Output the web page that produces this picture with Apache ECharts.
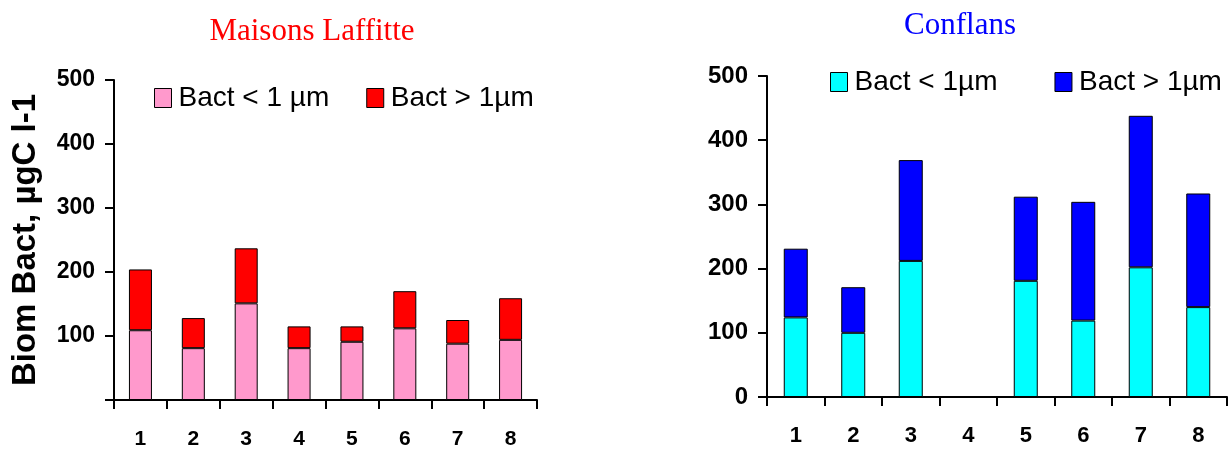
<!DOCTYPE html>
<html>
<head>
<meta charset="utf-8">
<script src="https://cdn.jsdelivr.net/npm/echarts@6/dist/echarts.min.js"></script>
<style>html,body{margin:0;padding:0;background:#fff;}#c{width:1229px;height:450px;}</style>
</head>
<body>
<div id="c"></div>
<script>
var categories = ['1', '2', '3', '4', '5', '6', '7', '8'];
var yTicks = [0, 100, 200, 300, 400, 500];
// Maisons Laffitte
var mlSmall = [109, 81, 151, 81, 91, 112, 88, 94];
var mlLarge = [95, 47, 86, 34, 24, 58, 37, 65];
// Conflans
var cfSmall = [124, 100, 212, null, 181, 119, 202, 140];
var cfLarge = [107, 71, 157, null, 131, 185, 236, 177];

var font = "'Liberation Sans', Arial, sans-serif";
var serif = "'Liberation Serif', 'Times New Roman', serif";

var chart = echarts.init(document.getElementById('c'), null, {renderer: 'canvas'});

function xAx(gi, fs, margin) {
  return {
    type: 'category', gridIndex: gi, data: categories, boundaryGap: true,
    axisLine: {show: true, lineStyle: {color: '#000', width: 2}},
    axisTick: {show: true, length: 9, inside: false, lineStyle: {color: '#000', width: 2}},
    axisLabel: {color: '#000', fontFamily: font, fontWeight: 'bold', fontSize: fs, margin: margin},
    splitLine: {show: false}
  };
}
function yAx(gi, fs, showZero, extra) {
  var o = {
    type: 'value', gridIndex: gi, min: yTicks[0], max: yTicks[yTicks.length - 1], interval: 100,
    axisLine: {show: true, lineStyle: {color: '#000', width: 2}},
    axisTick: {show: true, length: 9, lineStyle: {color: '#000', width: 2}},
    axisLabel: {color: '#000', fontFamily: font, fontWeight: 'bold', fontSize: fs, margin: 19,
      formatter: function (v) { return (v === 0 && !showZero) ? '' : String(v); }},
    splitLine: {show: false}
  };
  for (var k in extra) o[k] = extra[k];
  return o;
}
function bar(name, data, color, xi, stack, bw) {
  return {
    name: name, type: 'bar', xAxisIndex: xi, yAxisIndex: xi, stack: stack, data: data,
    barWidth: bw,
    itemStyle: {color: color, borderColor: '#000', borderWidth: 1},
    emphasis: {disabled: true}
  };
}

chart.setOption({
  animation: false,
  backgroundColor: '#fff',
  title: [
    {text: 'Maisons Laffitte', left: 307, top: 11, textAlign: 'center',
      textStyle: {color: '#ff0000', fontFamily: serif, fontWeight: 'normal', fontSize: 31}},
    {text: 'Conflans', left: 955, top: 5, textAlign: 'center',
      textStyle: {color: '#0000ff', fontFamily: serif, fontWeight: 'normal', fontSize: 31}}
  ],
  legend: [
    {left: 149, top: 79, width: 460, itemWidth: 17, itemHeight: 19, itemGap: 37, icon: 'rect',
      data: ['Bact < 1 µm', 'Bact > 1µm'],
      itemStyle: {borderColor: '#000', borderWidth: 1},
      textStyle: {color: '#000', fontFamily: font, fontSize: 28, padding: [0, 0, 0, 2]}},
    {left: 825, top: 63, width: 420, itemWidth: 17, itemHeight: 19, itemGap: 57, icon: 'rect',
      data: ['Bact < 1µm', 'Bact > 1µm '],
      itemStyle: {borderColor: '#000', borderWidth: 1},
      textStyle: {color: '#000', fontFamily: font, fontSize: 28, padding: [0, 0, 0, 2]}}
  ],
  grid: [
    {left: 114, top: 80, width: 423, height: 321},
    {left: 767, top: 76, width: 460, height: 321}
  ],
  xAxis: [xAx(0, 21, 29), xAx(1, 22, 28)],
  yAxis: [
    yAx(0, 23, false, {name: 'Biom Bact, µgC l-1', nameLocation: 'middle', nameGap: 72,
      nameTextStyle: {color: '#000', fontFamily: font, fontWeight: 'bold', fontSize: 33}}),
    yAx(1, 24, true, {})
  ],
  series: [
    bar('Bact < 1 µm', mlSmall, '#ff99cc', 0, 'ml', 23),
    bar('Bact > 1µm', mlLarge, '#ff0000', 0, 'ml', 23),
    bar('Bact < 1µm', cfSmall, '#00ffff', 1, 'cf', 24),
    bar('Bact > 1µm ', cfLarge, '#0000ff', 1, 'cf', 24)
  ]
});
</script>
</body>
</html>
